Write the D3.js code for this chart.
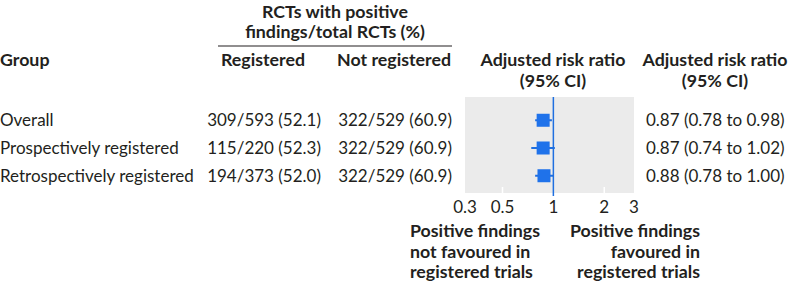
<!DOCTYPE html>
<html>
<head>
<meta charset="utf-8">
<script src="https://cdn.jsdelivr.net/npm/d3@7"></script>
<style>
  body { margin: 0; background: #fff; }
  text { font-family: Lato, sans-serif; fill: #231f20; }
  .b { font-weight: bold; }
</style>
</head>
<body>
<main></main>
<script>
// datos
const grupos = ["Overall", "Prospectively registered", "Retrospectively registered"];
const registrados = ["309/593 (52.1)", "115/220 (52.3)", "194/373 (52.0)"];
const noRegistrados = ["322/529 (60.9)", "322/529 (60.9)", "322/529 (60.9)"];
const rr = [0.87, 0.87, 0.88];
const rrBajo = [0.78, 0.74, 0.78];
const rrAlto = [0.98, 1.02, 1.00];
const ticks = [0.3, 0.5, 1, 2, 3];

const w = 790, h = 285;
const fs = 17;     // texto normal
const fb = 17.8;   // texto en negrita

var svg = d3.select('main').append('svg')
    .attr('width', w).attr('height', h);

// escalas
const x = d3.scaleLog().domain([0.3, 3]).range([465, 634]);
const y = d3.scaleBand().domain(grupos).range([105, 191]).paddingOuter(0.05);
const yc = d => y(d) + y.bandwidth() / 2;

const fmt = d3.format(".2f");

// panel gris
svg.append('rect')
    .attr('x', x(0.3)).attr('y', 97)
    .attr('width', x(3) - x(0.3)).attr('height', 96)
    .attr('fill', '#ebebeb');

// marcas blancas
svg.selectAll('.gr').data([0.5, 2]).enter().append('line')
    .attr('x1', d => x(d)).attr('x2', d => x(d))
    .attr('y1', 187).attr('y2', 193)
    .attr('stroke', '#fff').attr('stroke-width', 1.5);

// linea de referencia
svg.append('line')
    .attr('x1', x(1)).attr('x2', x(1))
    .attr('y1', 97).attr('y2', 196)
    .attr('stroke', '#1f6fe0').attr('stroke-width', 1.5);

// intervalos
svg.selectAll('.ci').data(grupos).enter().append('line')
    .attr('x1', (d, i) => x(rrBajo[i])).attr('x2', (d, i) => x(rrAlto[i]))
    .attr('y1', d => yc(d)).attr('y2', d => yc(d))
    .attr('stroke', '#1f6fe0').attr('stroke-width', 2);

svg.selectAll('.pt').data(grupos).enter().append('rect')
    .attr('x', (d, i) => x(rr[i]) - 6.5).attr('y', d => yc(d) - 6.5)
    .attr('width', 13).attr('height', 13)
    .attr('fill', '#1f72ea');

// eje
svg.selectAll('.tk').data(ticks).enter().append('text')
    .attr('x', d => x(d)).attr('y', 213)
    .attr('text-anchor', 'middle')
    .attr('font-size', fs)
    .text(d => d);

// cabeceras
const cab = svg.append('g').attr('font-size', fb);
cab.append('text').attr('class', 'b').attr('x', 335).attr('y', 18).attr('text-anchor', 'middle').text('RCTs with positive');
cab.append('text').attr('class', 'b').attr('x', 335).attr('y', 38).attr('text-anchor', 'middle').text('findings/total RCTs (%)');
svg.append('line').attr('x1', 218).attr('x2', 452).attr('y1', 46).attr('y2', 46)
    .attr('stroke', '#231f20').attr('stroke-width', 1.2);
cab.append('text').attr('class', 'b').attr('x', 0).attr('y', 66).text('Group');
cab.append('text').attr('class', 'b').attr('x', 263).attr('y', 66).attr('text-anchor', 'middle').text('Registered');
cab.append('text').attr('class', 'b').attr('x', 394).attr('y', 66).attr('text-anchor', 'middle').text('Not registered');
[553, 715].forEach(cx => {
    cab.append('text').attr('class', 'b').attr('x', cx).attr('y', 66).attr('text-anchor', 'middle').text('Adjusted risk ratio');
    cab.append('text').attr('class', 'b').attr('x', cx).attr('y', 87).attr('text-anchor', 'middle').text('(95% CI)');
});

// filas
const filas = svg.append('g').attr('font-size', fs);
filas.selectAll('.g').data(grupos).enter().append('text')
    .attr('x', 0).attr('y', d => yc(d) + 6).text(d => d);
filas.selectAll('.r').data(registrados).enter().append('text')
    .attr('x', 321).attr('y', (d, i) => yc(grupos[i]) + 6)
    .attr('text-anchor', 'end').text(d => d);
filas.selectAll('.n').data(noRegistrados).enter().append('text')
    .attr('x', 452).attr('y', (d, i) => yc(grupos[i]) + 6)
    .attr('text-anchor', 'end').text(d => d);
filas.selectAll('.e').data(rr).enter().append('text')
    .attr('x', 646).attr('y', (d, i) => yc(grupos[i]) + 6)
    .text((d, i) => fmt(d) + ' (' + fmt(rrBajo[i]) + ' to ' + fmt(rrAlto[i]) + ')');

// notas inferiores
const izq = ['Positive findings', 'not favoured in', 'registered trials'];
const der = ['Positive findings', 'favoured in', 'registered trials'];
svg.append('g').selectAll('text').data(izq).enter().append('text')
    .attr('class', 'b').attr('font-size', fb)
    .attr('x', 410).attr('y', (d, i) => 237 + i * 20.5).text(d => d);
svg.append('g').selectAll('text').data(der).enter().append('text')
    .attr('class', 'b').attr('font-size', fb)
    .attr('x', 700).attr('y', (d, i) => 237 + i * 20.5)
    .attr('text-anchor', 'end').text(d => d);
</script>
</body>
</html>
